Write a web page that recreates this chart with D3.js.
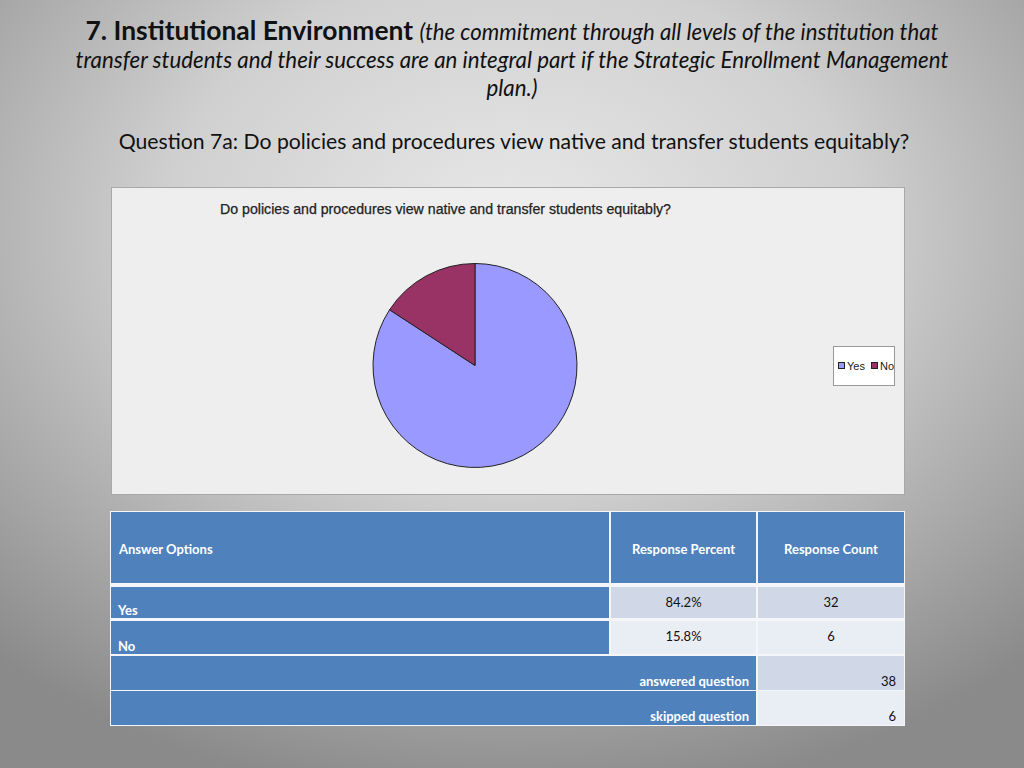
<!DOCTYPE html>
<html><head><meta charset="utf-8">
<script src="https://cdn.jsdelivr.net/npm/d3@7"></script>
<style>html,body{margin:0;padding:0;overflow:hidden;background:#aaa}</style>
</head><body>
<script>
const categories = ["Yes", "No"];
const percents = [84.2, 15.8];
const counts = [32, 6];
const colors = ["#9999ff", "#993366"];
const headers = ["Answer Options", "Response Percent", "Response Count"];
const summaryLabels = ["answered question", "skipped question"];
const summaryValues = [38, 6];

const W = 1024, H = 768;
const svg = d3.select("body").append("svg").attr("width", W).attr("height", H);
const defs = svg.append("defs");
const rg = defs.append("radialGradient").attr("id", "bg").attr("cx", "50%").attr("cy", "30%").attr("r", "75%");
rg.append("stop").attr("offset", "0%").attr("stop-color", "#e8e8e8");
rg.append("stop").attr("offset", "45%").attr("stop-color", "#d0d0d0");
rg.append("stop").attr("offset", "100%").attr("stop-color", "#8a8a8a");
svg.append("rect").attr("width", W).attr("height", H).attr("fill", "url(#bg)");

const font = "Lato, 'Open Sans', sans-serif";
// Title
const t1 = svg.append("text").attr("x", 512).attr("y", 40).attr("text-anchor", "middle")
  .attr("font-family", font).attr("fill", "#111");
t1.append("tspan").attr("font-size", 26.4).attr("font-weight", "bold").text("7. Institutional Environment ");
t1.append("tspan").attr("font-size", 22.2).attr("font-style", "italic").text("(the commitment through all levels of the institution that");
svg.append("text").attr("x", 512).attr("y", 68).attr("text-anchor", "middle")
  .attr("font-family", font).attr("font-size", 22.3).attr("font-style", "italic").attr("fill", "#111")
  .text("transfer students and their success are an integral part if the Strategic Enrollment Management");
svg.append("text").attr("x", 512).attr("y", 96).attr("text-anchor", "middle")
  .attr("font-family", font).attr("font-size", 22.3).attr("font-style", "italic").attr("fill", "#111")
  .text("plan.)");
svg.append("text").attr("x", 514).attr("y", 149).attr("text-anchor", "middle")
  .attr("font-family", font).attr("font-size", 21.2).attr("fill", "#111")
  .text("Question 7a:  Do policies and procedures view native and transfer students equitably?");

// Chart panel
svg.append("rect").attr("x", 111.5).attr("y", 187.5).attr("width", 793).attr("height", 307)
  .attr("fill", "#eeeeee").attr("stroke", "#a8a8a8");
svg.append("text").attr("x", 220).attr("y", 214).attr("font-family", "'Liberation Sans', Arial, sans-serif")
  .attr("font-size", 14).attr("fill", "#222").attr("stroke", "#222").attr("stroke-width", 0.25)
  .attr("textLength", 451).attr("lengthAdjust", "spacingAndGlyphs")
  .text("Do policies and procedures view native and transfer students equitably?");

const pieData = d3.pie().sort(null).value(d => d)(percents);
const arc = d3.arc().innerRadius(0).outerRadius(102);
const pg = svg.append("g").attr("transform", "translate(475,365.5)");
pg.selectAll("path").data(pieData).join("path")
  .attr("d", arc).attr("fill", (d, i) => colors[i]).attr("stroke", "#222").attr("stroke-width", 1);

// Legend
const lg = svg.append("g");
lg.append("rect").attr("x", 833.5).attr("y", 346.5).attr("width", 61).attr("height", 39)
  .attr("fill", "#fff").attr("stroke", "#999");
const legX = [838, 871];
categories.forEach((c, i) => {
  lg.append("rect").attr("x", legX[i] + 0.5).attr("y", 362.5).attr("width", 6).attr("height", 6)
    .attr("fill", colors[i]).attr("stroke", "#222").attr("stroke-width", 1);
  lg.append("text").attr("x", legX[i] + 9).attr("y", 370).attr("font-family", "'Liberation Sans', Arial, sans-serif")
    .attr("font-size", 11).attr("fill", "#222").text(c);
});

// Table
const colX = [111, 611, 758], colW = [498, 145, 146];
const hdr = "#4f81bd", light1 = "#d0d8e8", light2 = "#e9edf4";
const tf = "Lato, 'Open Sans', sans-serif";
svg.append("rect").attr("x", 110).attr("y", 511).attr("width", 795).attr("height", 215).attr("fill", "#f4f6fa");
// header
colX.forEach((x, i) => {
  svg.append("rect").attr("x", x).attr("y", 512).attr("width", colW[i]).attr("height", 71).attr("fill", hdr);
});
svg.append("text").attr("x", 119).attr("y", 554).attr("font-family", tf).attr("font-size", 13)
  .attr("font-weight", "bold").attr("fill", "#fff").text(headers[0]);
[1, 2].forEach(i => {
  svg.append("text").attr("x", colX[i] + colW[i] / 2).attr("y", 554).attr("text-anchor", "middle")
    .attr("font-family", tf).attr("font-size", 13).attr("font-weight", "bold").attr("fill", "#fff").text(headers[i]);
});
const rowY = [587, 621], rowH = [31, 33];
const rowFill = [light1, light2];
categories.forEach((c, r) => {
  svg.append("rect").attr("x", colX[0]).attr("y", rowY[r]).attr("width", colW[0]).attr("height", rowH[r]).attr("fill", hdr);
  svg.append("rect").attr("x", colX[1]).attr("y", rowY[r]).attr("width", colW[1]).attr("height", rowH[r]).attr("fill", rowFill[r]);
  svg.append("rect").attr("x", colX[2]).attr("y", rowY[r]).attr("width", colW[2]).attr("height", rowH[r]).attr("fill", rowFill[r]);
  svg.append("text").attr("x", 118).attr("y", rowY[r] + rowH[r] - 3).attr("font-family", tf).attr("font-size", 13)
    .attr("font-weight", "bold").attr("fill", "#fff").text(c);
  svg.append("text").attr("x", colX[1] + colW[1] / 2).attr("y", rowY[r] + 20).attr("text-anchor", "middle")
    .attr("font-family", tf).attr("font-size", 13).attr("fill", "#111").text(d3.format(".1f")(percents[r]) + "%");
  svg.append("text").attr("x", colX[2] + colW[2] / 2).attr("y", rowY[r] + 20).attr("text-anchor", "middle")
    .attr("font-family", tf).attr("font-size", 13).attr("fill", "#111").text(counts[r]);
});
const sumY = [656, 691], sumH = [34, 34];
summaryLabels.forEach((s, r) => {
  svg.append("rect").attr("x", colX[0]).attr("y", sumY[r]).attr("width", colX[2] - colX[0] - 2).attr("height", sumH[r]).attr("fill", hdr);
  svg.append("rect").attr("x", colX[2]).attr("y", sumY[r]).attr("width", colW[2]).attr("height", sumH[r]).attr("fill", rowFill[r]);
  svg.append("text").attr("x", 749).attr("y", sumY[r] + sumH[r] - 4).attr("text-anchor", "end")
    .attr("font-family", tf).attr("font-size", 13).attr("font-weight", "bold").attr("fill", "#fff").text(s);
  svg.append("text").attr("x", 896).attr("y", sumY[r] + sumH[r] - 4).attr("text-anchor", "end")
    .attr("font-family", tf).attr("font-size", 13).attr("fill", "#111").text(summaryValues[r]);
});
</script>
</body></html>
